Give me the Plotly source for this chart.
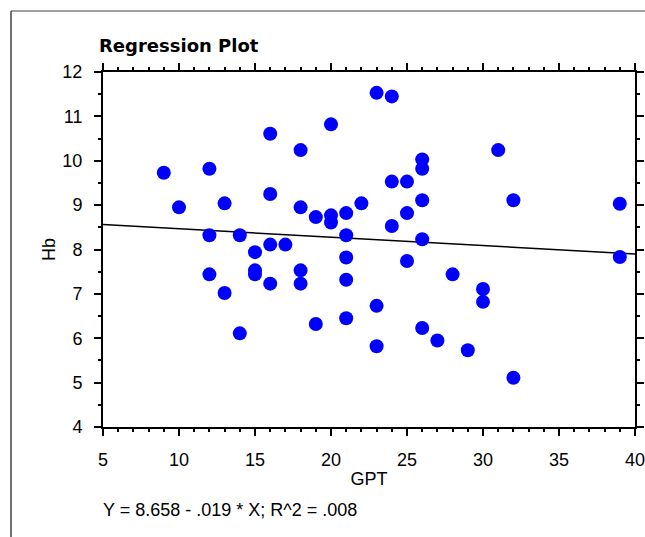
import plotly.graph_objects as go
import numpy as np

# ---- data ----
gpt = [9, 10, 12, 12, 12, 13, 13, 14, 14, 15, 15, 15, 16, 16, 16, 16, 17,
       18, 18, 18, 18, 19, 19, 20, 20, 20, 21, 21, 21, 21, 21, 22, 23, 23, 23,
       24, 24, 24, 25, 25, 25, 26, 26, 26, 26, 26, 27, 28, 29, 30, 30, 31, 32,
       32, 39, 39]
hb = [9.73, 8.95, 9.82, 8.32, 7.44, 9.04, 7.02, 8.32, 6.11, 7.94, 7.53, 7.44,
      10.61, 9.25, 8.11, 7.23, 8.11, 10.24, 8.95, 7.53, 7.23, 8.73, 6.32,
      10.82, 8.77, 8.61, 8.82, 8.32, 7.82, 7.32, 6.45, 9.04, 11.53, 6.73, 5.82,
      11.45, 9.53, 8.53, 9.53, 8.82, 7.74, 10.03, 9.82, 9.11, 8.23, 6.23, 5.95,
      7.44, 5.73, 7.11, 6.82, 10.24, 9.11, 5.11, 9.03, 7.83]
intercept = 8.658
slope = -0.019
r2 = 0.008
x_range = [5, 40]
y_range = [4, 12]
x_ticks = [5, 10, 15, 20, 25, 30, 35, 40]
y_ticks = [4, 5, 6, 7, 8, 9, 10, 11, 12]

line_x = np.array(x_range, dtype=float)
line_y = intercept + slope * line_x

FONT = "Liberation Sans, Arial, sans-serif"

fig = go.Figure()
fig.add_trace(go.Scatter(
    x=line_x, y=line_y, mode="lines",
    line=dict(color="black", width=1.5), showlegend=False, hoverinfo="skip"))
fig.add_trace(go.Scatter(
    x=gpt, y=hb, mode="markers",
    marker=dict(color="#0000FF", size=14, line=dict(width=0)),
    showlegend=False, cliponaxis=False))

axis_common = dict(
    showgrid=False, zeroline=False, showline=True, linecolor="black",
    linewidth=2, mirror="allticks", ticks="outside", ticklen=7, tickwidth=2,
    tickcolor="black", tickfont=dict(family=FONT, size=18, color="black"),
    automargin=False, ticklabeloverflow="allow",
)

fig.update_xaxes(
    range=x_range, tickvals=x_ticks, ticktext=[str(v) for v in x_ticks],
    minor=dict(dtick=1, ticks="outside", ticklen=3, tickwidth=2, tickcolor="black"),
    title=dict(text="GPT", font=dict(family=FONT, size=18, color="black"), standoff=4),
    ticklabelstandoff=8,
    **axis_common)
fig.update_yaxes(
    range=y_range, tickvals=y_ticks, ticktext=[str(v) for v in y_ticks],
    minor=dict(dtick=0.5, ticks="outside", ticklen=3, tickwidth=2, tickcolor="black"),
    title=dict(text="Hb", font=dict(family=FONT, size=18, color="black"), standoff=2),
    ticklabelstandoff=8,
    **axis_common)

L, R, T, B = 103, 10, 72, 110
W, H = 645, 537
pw, ph = W - L - R, H - T - B

def px(xp):
    return (xp - L) / pw

def py(yp):
    return (H - B - yp) / ph

fig.update_layout(
    width=W, height=H,
    margin=dict(l=L, r=R, t=T, b=B, pad=0, autoexpand=False),
    paper_bgcolor="white", plot_bgcolor="white",
    showlegend=False,
    annotations=[
        dict(text="<b>Regression Plot</b>", xref="paper", yref="paper",
             x=px(97), y=py(58), xanchor="left", yanchor="bottom",
             showarrow=False, font=dict(family="DejaVu Sans", size=18, color="black")),
        dict(text=f"Y = {intercept:.3f} - {abs(slope):.3f} * X; R^2 = {r2:.3f}".replace("0.", "."),
             xref="paper", yref="paper", x=px(101), y=py(510),
             xanchor="left", yanchor="middle", showarrow=False,
             font=dict(family=FONT, size=18, color="black")),
    ],
    shapes=[
        dict(type="line", xref="paper", yref="paper", x0=px(11), x1=px(W + 5),
             y0=py(11), y1=py(11), line=dict(color="#808080", width=1.5)),
        dict(type="line", xref="paper", yref="paper", x0=px(11), x1=px(11),
             y0=py(11), y1=py(H + 5), line=dict(color="#404040", width=1.5)),
    ],
)

fig.write_html(
    "out.html",
    config={"displayModeBar": False},
    post_script="document.body.style.margin='0';document.body.style.padding='0';"
                "document.body.style.overflow='hidden';",
)
